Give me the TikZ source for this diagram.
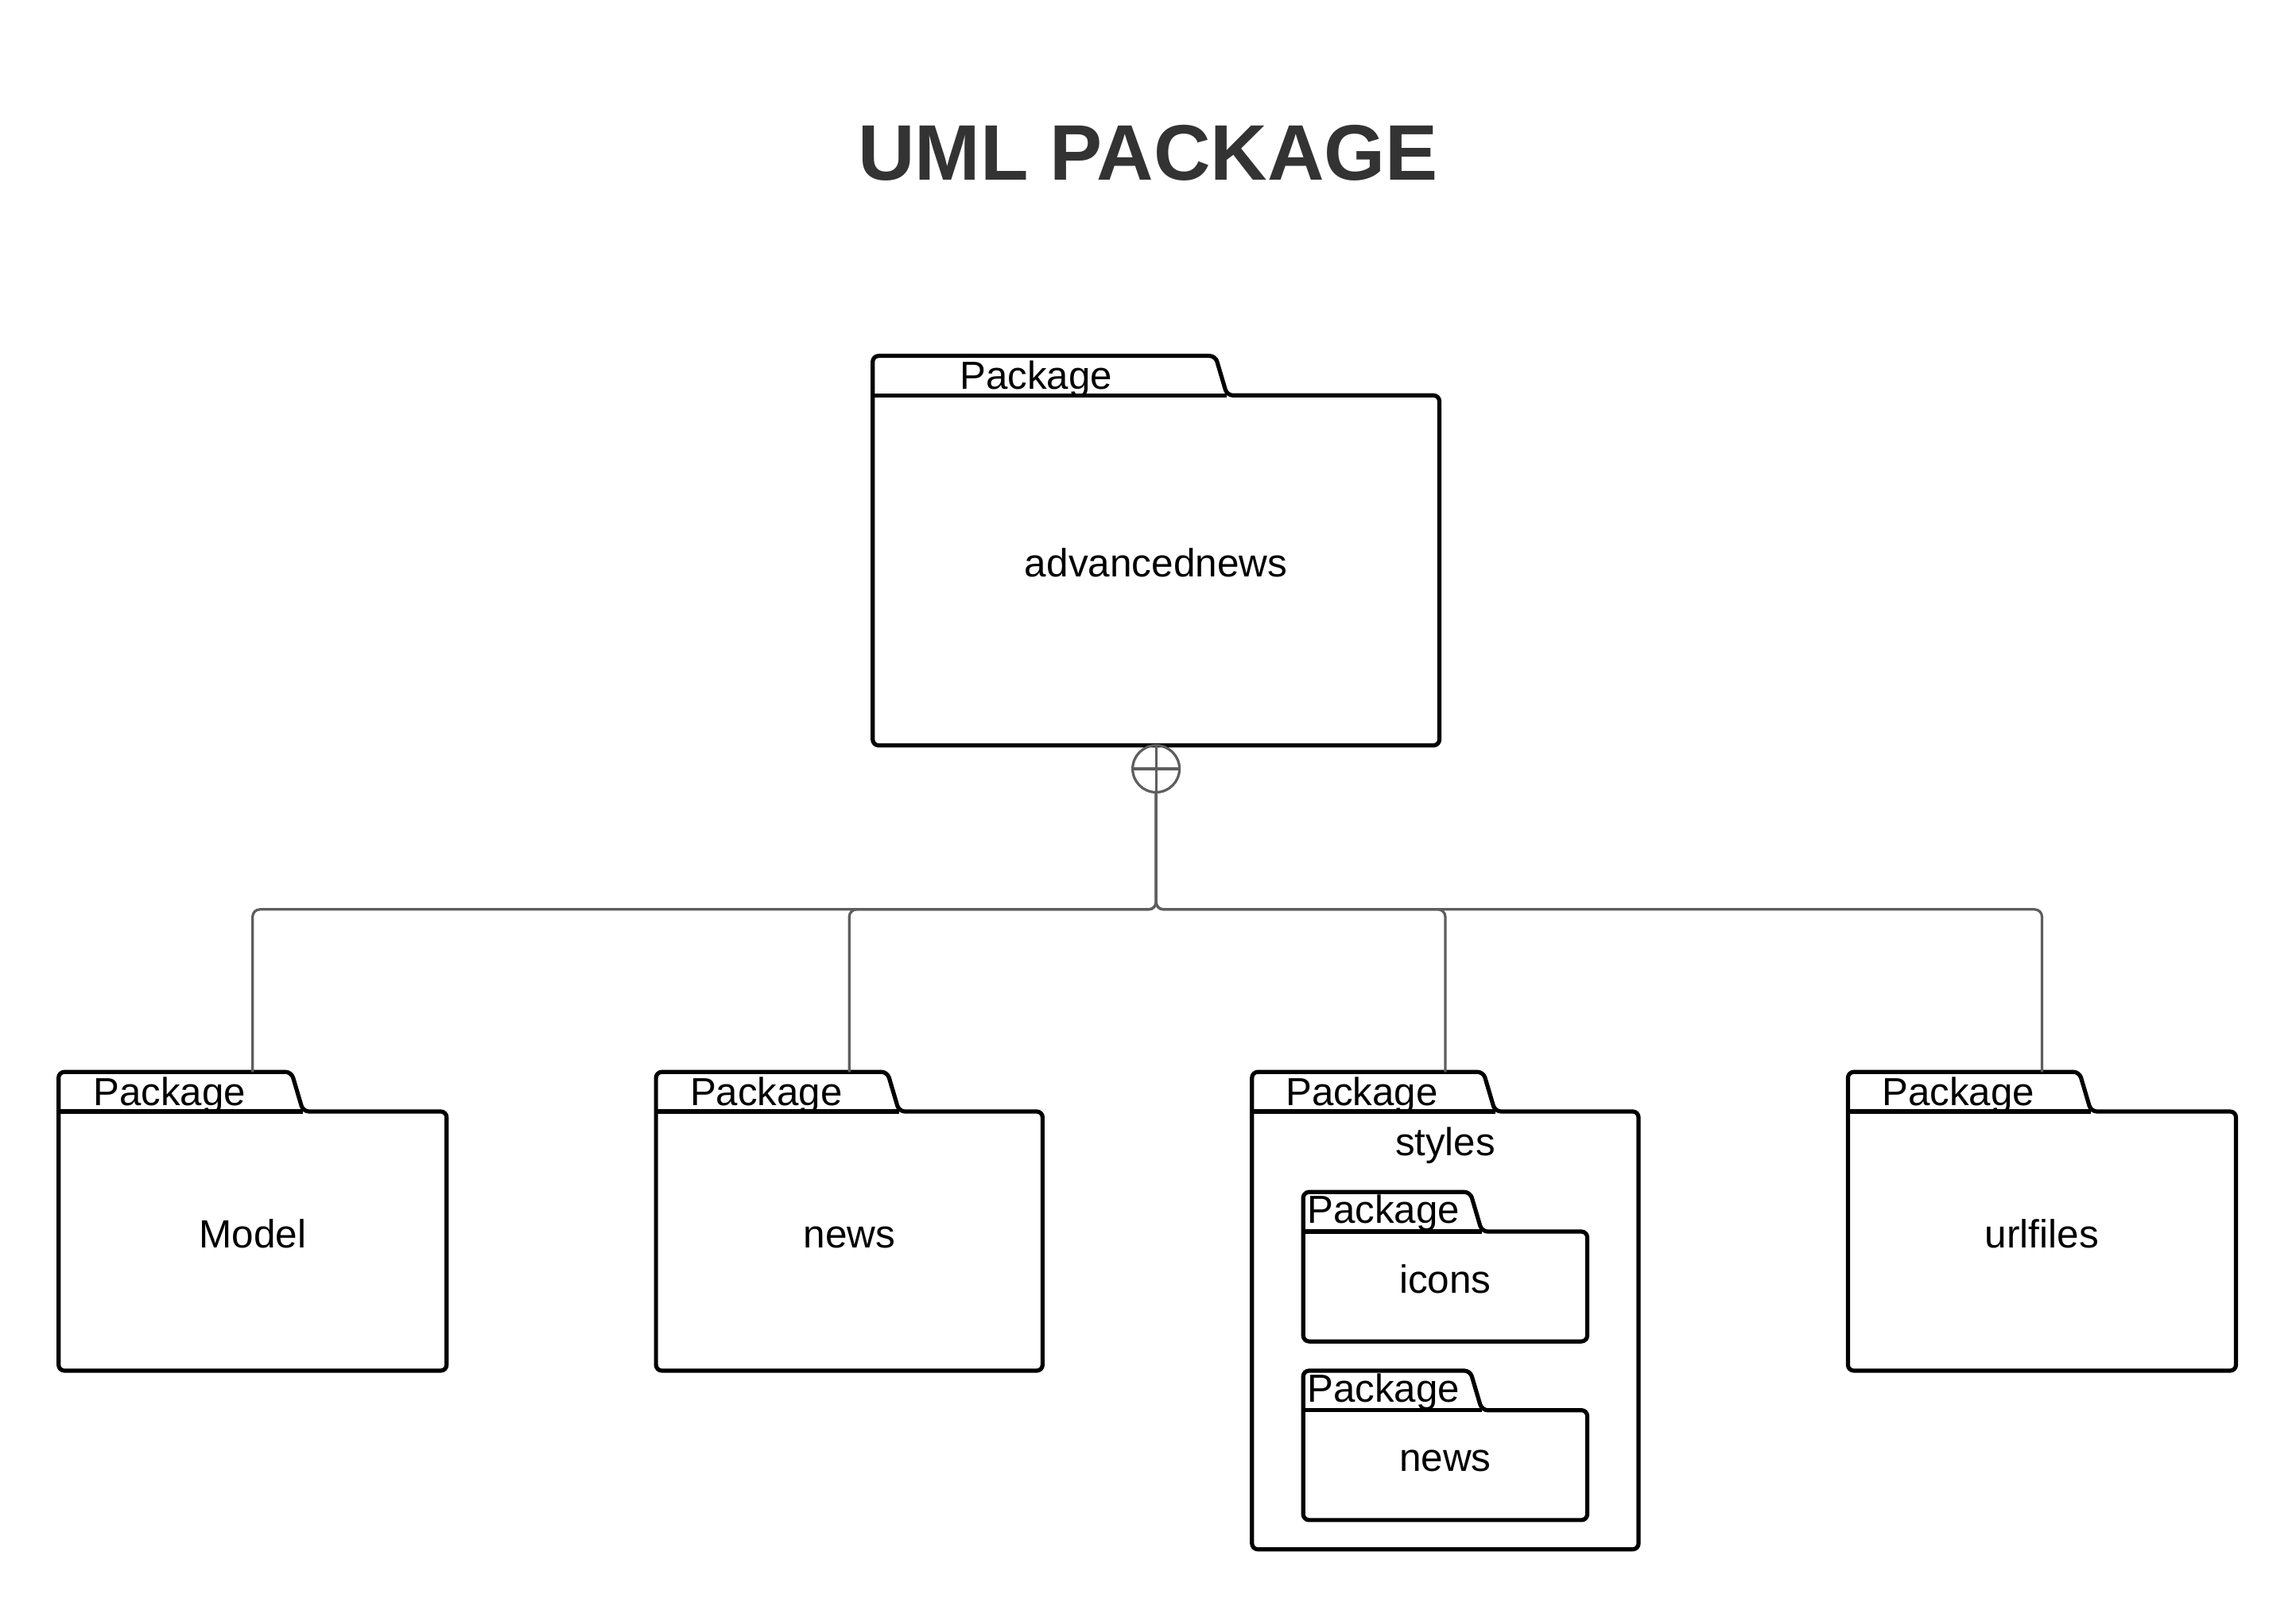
\documentclass[tikz,border=0pt]{standalone}
\usepackage{fontspec}
\setmainfont{Liberation Sans}
\usepackage{tikz}
\usetikzlibrary{positioning}

\definecolor{linha}{HTML}{5E5E5E}
\definecolor{titulocor}{HTML}{333333}

% contorno de pacote: #1 = corpo, #2 = largura da aba
\newcommand\pacote[2]{%
  \draw[contorno] (#1.south west) -- (#1.north west) -- ++(0,-27) -- ++(#2-8,0) -- ++(8,27)
    -- (#1.north east) -- (#1.south east) -- cycle;
  \draw[contorno] (#1.north west) -- ++(#2,0);
}

\begin{document}
\begin{tikzpicture}
            [
                x=0.2mm, y=-0.2mm,
                corpo/.style={rectangle, inner sep=0pt, outer sep=0pt, font=\fontsize{15.3}{18}\selectfont, text height=0.7em, text depth=0.2em},
                rotulo/.style={anchor=base, inner sep=0pt, font=\fontsize{15.2}{18}\selectfont},
                titulo/.style={anchor=base, inner sep=0pt, text=titulocor, font=\bfseries\fontsize{30.6}{37}\selectfont},
                contorno/.style={line width=1.6pt, rounded corners=0.8mm, line join=round},
                ligacao/.style={draw=linha, line width=1pt, rounded corners=1mm},
                juncao/.style={circle, draw=linha, line width=1pt, minimum size=6.4mm, inner sep=0pt, outer sep=0pt},
            ]
            \useasboundingbox (0,0) rectangle (1568,1099);
            %obs: \usetikzlibrary{positioning}
            \node[titulo] (tt) at (784,123) {UML PACKAGE};

            % pacote principal
            \node[corpo, minimum width=77.4mm, minimum height=47.8mm] (an) at (789.5,389.5) {advancednews};
            \pacote{an}{242}
            \node[rotulo] (p0) at (707.5,266) {Package};
            \node[juncao] (ox) [below=0pt of an] {};
            \draw[ligacao] (ox.west) -- (ox.east);
            \draw[ligacao] (ox.north) -- (ox.south);
            \coordinate (barra) at (789.5,621);

            % pacotes de baixo
            \node[corpo, minimum width=53mm, minimum height=35.4mm] (mo) at (172.5,847.5) {Model};
            \pacote{mo}{167}
            \node[rotulo] (p1) at (115.8,755) {Package};
            \node[corpo, minimum width=52.8mm, minimum height=35.4mm] (ne) at (580,847.5) {news};
            \pacote{ne}{166}
            \node[rotulo] (p2) at (523.3,755) {Package};
            \node[corpo, minimum width=52.8mm, minimum height=59.8mm] (st) at (987,908.5) {};
            \pacote{st}{166}
            \node[rotulo] (p3) at (930,755) {Package};
            \node[rotulo] (stl) at (987,789) {styles};
            \node[corpo, minimum width=53mm, minimum height=35.4mm] (ur) at (1394.5,847.5) {urlfiles};
            \pacote{ur}{166}
            \node[rotulo] (p4) at (1337.3,755) {Package};

            % dentro de styles
            \node[corpo, minimum width=38.8mm, minimum height=15mm] (ic) at (987,878.5) {icons};
            \pacote{ic}{122}
            \node[rotulo] (p5) at (944.8,835.5) {Package};
            \node[corpo, minimum width=38.8mm, minimum height=15mm] (nw) at (987,1000.5) {news};
            \pacote{nw}{122}
            \node[rotulo] (p6) at (944.8,957.5) {Package};

            % ligacoes
            \draw[ligacao] (ox.south) -- (barra) -| ([yshift=5.4mm]mo.north);
            \draw[ligacao] (ox.south) -- (barra) -| ([yshift=5.4mm]ne.north);
            \draw[ligacao] (ox.south) -- (barra) -| ([yshift=5.4mm]st.north);
            \draw[ligacao] (ox.south) -- (barra) -| ([yshift=5.4mm]ur.north);
        \end{tikzpicture}
\end{document}
